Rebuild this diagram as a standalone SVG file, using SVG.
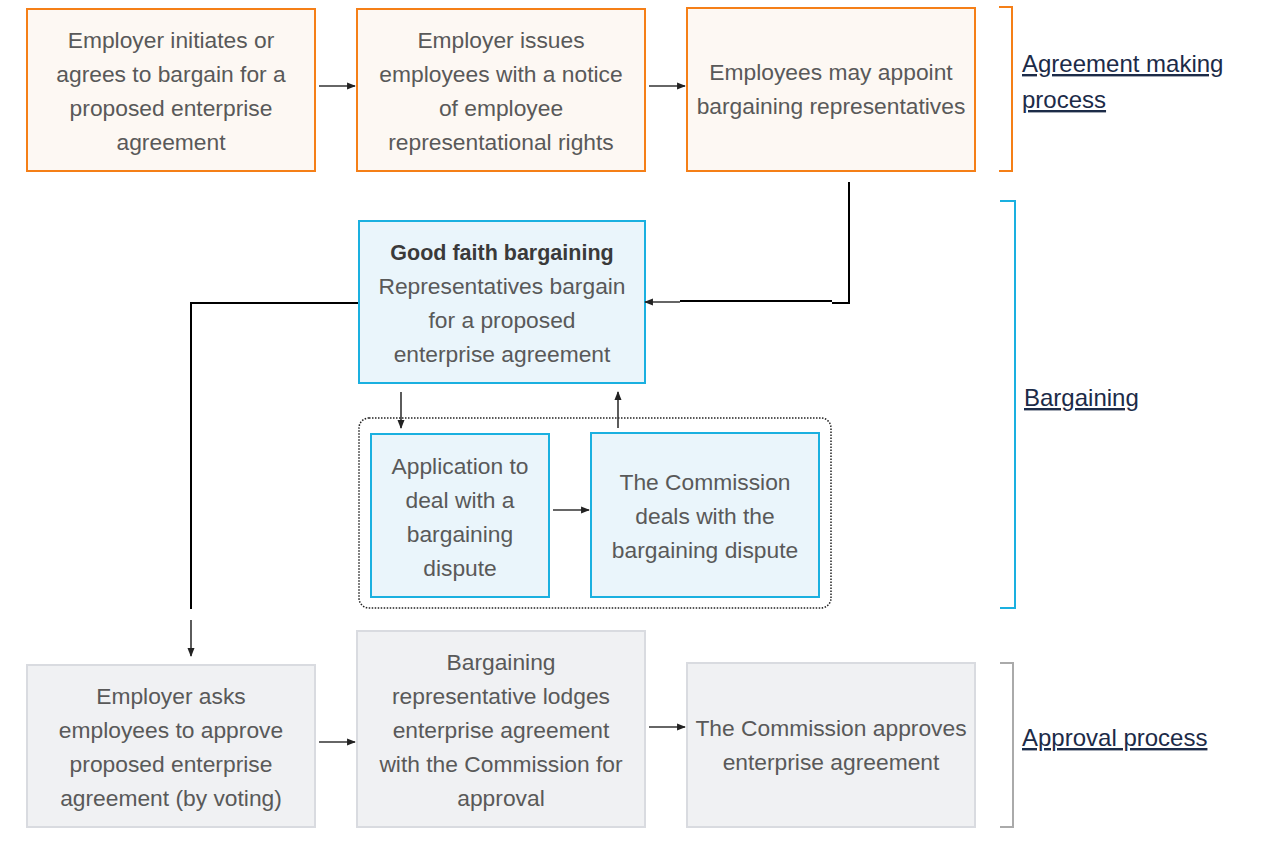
<svg xmlns="http://www.w3.org/2000/svg" width="1262" height="852" viewBox="0 0 1262 852">
<style>
  .t { font-family: "Liberation Sans", Arial, sans-serif; font-size: 22.8px; fill: #595959; text-anchor: middle; }
  .b { font-weight: bold; fill: #3a3a3a; font-size: 21.5px; }
  .lbl { font-family: "Liberation Sans", Arial, sans-serif; font-size: 24px; fill: #1c2b48; text-decoration: underline; }
  .or { fill: #fdf8f3; stroke: #f57f17; stroke-width: 2; }
  .bl { fill: #eaf5fb; stroke: #1ab0e0; stroke-width: 2; }
  .gr { fill: #f0f1f3; stroke: #d9dbe0; stroke-width: 2; }
  .arr { stroke: #333333; stroke-width: 1.6; fill: none; marker-end: url(#ah); }
  .ln { stroke: #000000; stroke-width: 2; fill: none; }
</style>
<defs>
  <marker id="ah" viewBox="0 0 10 10" refX="9" refY="5" markerWidth="5.5" markerHeight="5.5" orient="auto" markerUnits="strokeWidth">
    <path d="M0,1 L10,5 L0,9 z" fill="#222222"/>
  </marker>
</defs>
<rect width="1262" height="852" fill="#ffffff"/>

<g id="brackets">
  <polyline points="999,7 1012,7 1012,171 999,171" fill="none" stroke="#f57f17" stroke-width="2"/>
  <text class="lbl" x="1022" y="72">Agreement making</text>
  <text class="lbl" x="1022" y="108">process</text>
  <polyline points="1000,201 1015,201 1015,608 1000,608" fill="none" stroke="#1ab0e0" stroke-width="2"/>
  <text class="lbl" x="1024" y="406">Bargaining</text>
  <polyline points="1000,663 1013,663 1013,827 1000,827" fill="none" stroke="#aaaaaa" stroke-width="2"/>
  <text class="lbl" x="1022" y="746">Approval process</text>
</g>

<g id="container">
  <rect x="359" y="418" width="472" height="190" rx="10" fill="none" stroke="#222" stroke-width="1.5" stroke-dasharray="1.5,1.5"/>
</g>

<g id="n1">
  <rect class="or" x="27" y="9" width="288" height="162"/>
  <text class="t" x="171" y="48">Employer initiates or</text>
  <text class="t" x="171" y="82">agrees to bargain for a</text>
  <text class="t" x="171" y="116">proposed enterprise</text>
  <text class="t" x="171" y="150">agreement</text>
</g>
<g id="n2">
  <rect class="or" x="357" y="9" width="288" height="162"/>
  <text class="t" x="501" y="48">Employer issues</text>
  <text class="t" x="501" y="82">employees with a notice</text>
  <text class="t" x="501" y="116">of employee</text>
  <text class="t" x="501" y="150">representational rights</text>
</g>
<g id="n3">
  <rect class="or" x="687" y="8" width="288" height="163"/>
  <text class="t" x="831" y="80">Employees may appoint</text>
  <text class="t" x="831" y="114">bargaining representatives</text>
</g>
<g id="n4">
  <rect class="bl" x="359" y="221" width="286" height="162"/>
  <text class="t b" x="502" y="260">Good faith bargaining</text>
  <text class="t" x="502" y="294">Representatives bargain</text>
  <text class="t" x="502" y="328">for a proposed</text>
  <text class="t" x="502" y="362">enterprise agreement</text>
</g>
<g id="n5">
  <rect class="bl" x="371" y="434" width="178" height="163"/>
  <text class="t" x="460" y="474">Application to</text>
  <text class="t" x="460" y="508">deal with a</text>
  <text class="t" x="460" y="542">bargaining</text>
  <text class="t" x="460" y="576">dispute</text>
</g>
<g id="n6">
  <rect class="bl" x="591" y="433" width="228" height="164"/>
  <text class="t" x="705" y="490">The Commission</text>
  <text class="t" x="705" y="524">deals with the</text>
  <text class="t" x="705" y="558">bargaining dispute</text>
</g>
<g id="n7">
  <rect class="gr" x="27" y="665" width="288" height="162"/>
  <text class="t" x="171" y="704">Employer asks</text>
  <text class="t" x="171" y="738">employees to approve</text>
  <text class="t" x="171" y="772">proposed enterprise</text>
  <text class="t" x="171" y="806">agreement (by voting)</text>
</g>
<g id="n8">
  <rect class="gr" x="357" y="631" width="288" height="196"/>
  <text class="t" x="501" y="670">Bargaining</text>
  <text class="t" x="501" y="704">representative lodges</text>
  <text class="t" x="501" y="738">enterprise agreement</text>
  <text class="t" x="501" y="772">with the Commission for</text>
  <text class="t" x="501" y="806">approval</text>
</g>
<g id="n9">
  <rect class="gr" x="687" y="663" width="288" height="164"/>
  <text class="t" x="831" y="736">The Commission approves</text>
  <text class="t" x="831" y="770">enterprise agreement</text>
</g>

<g id="connectors">
  <line class="arr" x1="319" y1="86" x2="355" y2="86"/>
  <line class="arr" x1="649" y1="86" x2="685" y2="86"/>
  <polyline class="ln" points="849,182 849,303 832,303"/>
  <line class="ln" x1="832" y1="301" x2="680" y2="301"/>
  <line class="arr" x1="680" y1="302" x2="645" y2="302"/>
  <polyline class="ln" points="358,303 191,303 191,609"/>
  <line class="arr" x1="191" y1="620" x2="191" y2="656"/>
  <line class="arr" x1="401" y1="392" x2="401" y2="428"/>
  <line class="arr" x1="618" y1="428" x2="618" y2="392"/>
  <line class="arr" x1="553" y1="510" x2="589" y2="510"/>
  <line class="arr" x1="319" y1="742" x2="355" y2="742"/>
  <line class="arr" x1="649" y1="727" x2="685" y2="727"/>
</g>
</svg>
